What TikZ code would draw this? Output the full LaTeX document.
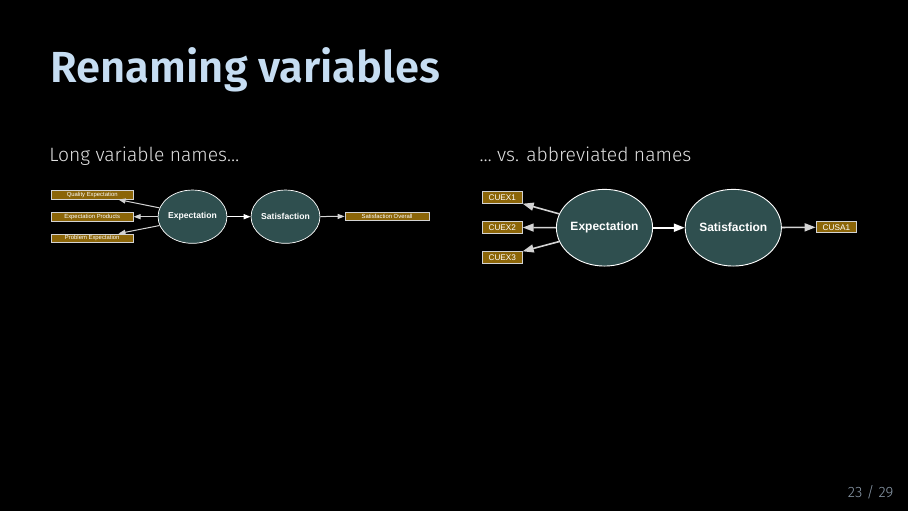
\documentclass[tikz,border=0pt]{standalone}
\usepackage{fontspec}
\setmainfont{Fira Sans}
\newfontfamily\firalight{Fira Sans Light}
\newfontfamily\firasemi{Fira Sans SemiBold}
\newfontfamily\diagfont{Liberation Sans}
\usetikzlibrary{arrows.meta,calc,shapes.geometric}
\definecolor{titleblue}{RGB}{198,221,242}
\definecolor{subgray}{RGB}{225,225,225}
\definecolor{pagegray}{RGB}{140,155,170}
\definecolor{boxfill}{RGB}{139,101,8}
\definecolor{ellfill}{RGB}{47,79,79}
\definecolor{edgegray}{RGB}{211,211,211}
\tikzset{
  lbox/.style={rectangle, draw=edgegray, line width=0.6pt, fill=boxfill, text=white, inner sep=0pt,
    minimum width=82pt, minimum height=8.6pt, font=\diagfont\fontsize{5.9}{6}\selectfont},
  rbox/.style={rectangle, draw=edgegray, line width=0.8pt, fill=boxfill, text=white, inner sep=0pt,
    minimum width=40pt, minimum height=11.6pt, font=\diagfont\fontsize{8.2}{9}\selectfont},
  lell/.style={ellipse, draw=white, line width=0.7pt, fill=ellfill, text=white, inner sep=0pt,
    minimum width=66pt, minimum height=53.3pt, font=\diagfont\bfseries\fontsize{8.6}{9}\selectfont},
  rell/.style={ellipse, draw=white, line width=0.9pt, fill=ellfill, text=white, inner sep=0pt,
    minimum width=92.4pt, minimum height=76.7pt, font=\diagfont\bfseries\fontsize{12}{13}\selectfont},
  larr/.style={draw=edgegray, line width=1pt, -{Triangle[length=7pt,width=5pt,fill=edgegray]}},
  larrw/.style={draw=white, line width=1.2pt, -{Triangle[length=7pt,width=5pt,fill=white]}},
  rarr/.style={draw=edgegray, line width=1.6pt, -{Triangle[length=11pt,width=8pt,fill=edgegray]}},
  rarrw/.style={draw=white, line width=2pt, -{Triangle[length=11pt,width=8pt,fill=white]}},
}
\begin{document}
\begin{tikzpicture}[x=1pt,y=-1pt]
\fill[black] (0,0) rectangle (908,511);
\useasboundingbox (0,0) rectangle (908,511);

\node[anchor=base west, inner sep=0pt, text=titleblue, font=\firasemi\fontsize{43.5}{50}\selectfont] (title) at (50.5,82.7) {Renaming variables};
\node[anchor=base west, inner sep=0pt, text=subgray, font=\firalight\fontsize{19.3}{24}\selectfont] (subl) at (49.2,161) {Long variable names\ldots};
\node[anchor=base west, inner sep=0pt, text=subgray, font=\firalight\fontsize{19.3}{24}\selectfont] (subr) at (479.5,161) {\ldots{} vs. abbreviated names};
\node[anchor=base east, inner sep=0pt, text=pagegray, font=\firalight\fontsize{15}{18}\selectfont] (page) at (893.5,497.3) {23 / 29};

% left diagram
\node[lbox] (qe) at (92.2,195) {Quality Expectation};
\node[lbox] (ep) at (92.2,216.7) {Expectation Products};
\node[lbox] (pe) at (92.2,238.2) {Problem Expectation};
\node[lell] (ex1) at (192.5,216.7) {Expectation};
\node[lell] (sa1) at (285.5,216.7) {Satisfaction};
\node[lbox, minimum width=84pt] (so) at (387,216.2) {Satisfaction Overall};

\draw[larr] (ex1.165) -- ($(qe.south east)+(-15,0)$);
\draw[larr] (ex1.west) -- (ep.east);
\draw[larr] (ex1.195) -- ($(pe.north east)+(-15,0)$);
\draw[larrw] (ex1) -- (sa1);
\draw[larr] (sa1) -- (so);

% right diagram
\node[rbox] (c1) at (502.3,197.5) {CUEX1};
\node[rbox] (c2) at (502.3,227.5) {CUEX2};
\node[rbox] (c3) at (502.3,257.5) {CUEX3};
\node[rell] (ex2) at (604.5,227.7) {Expectation};
\node[rell] (sa2) at (733.3,227.7) {Satisfaction};
\node[rbox, minimum width=40.7pt, minimum height=11pt] (cu) at (836.4,227.2) {CUSA1};

\draw[rarr] (ex2.163) -- (c1.south east);
\draw[rarr] (ex2.west) -- (c2.east);
\draw[rarr] (ex2.197) -- (c3.north east);
\draw[rarrw] (ex2) -- (sa2);
\draw[rarr] (sa2) -- (cu);
\end{tikzpicture}
\end{document}
